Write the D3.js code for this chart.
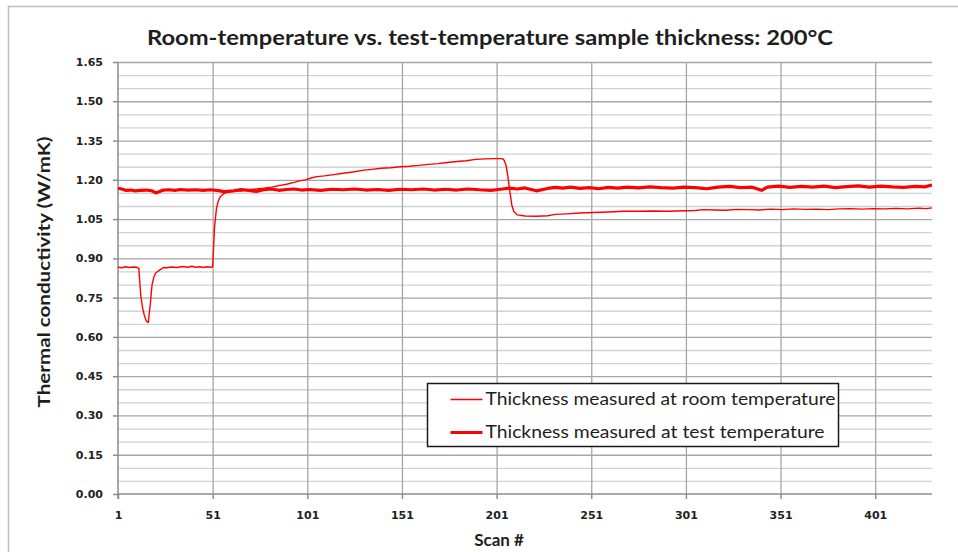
<!DOCTYPE html>
<html lang="en">
<head>
  <meta charset="UTF-8">
  <title>Room-temperature vs. test-temperature sample thickness</title>
  <script src="https://d3js.org/d3.v7.min.js"></script>
  <style>
    body { margin: 0; background: #fff; }
    svg { display: block; }
    .tick text { font-family: "DejaVu Sans", sans-serif; font-weight: bold; font-size: 11px; fill: #222; }
    .title, .axis-title, .legend text { font-family: Lato, "Open Sans", sans-serif; fill: #1e1e1e; }
  </style>
</head>
<body>
  <div id="chart"></div>

  <script>
    // scan numbers and conductivity (W/mK)
    const roomScan = [1, 3, 5, 7, 9, 11, 12, 13, 14, 15, 16, 17, 18, 19, 20, 21, 23, 25, 27, 29, 32, 35, 38, 40, 42, 44, 46, 48, 50, 51,
      52, 53, 54, 55, 57, 59, 62, 66, 70, 74, 78, 82, 86, 90, 94, 97, 100, 103, 106, 110, 115, 120, 125, 130, 135, 140, 145, 150,
      155, 160, 165, 170, 175, 180, 185, 190, 195, 200, 204, 205, 206, 207, 208, 209, 210, 212, 216, 222, 228, 232, 238, 245, 252,
      260, 268, 276, 284, 292, 300, 306, 310, 316, 322, 328, 334, 340, 346, 352, 358, 364, 370, 376, 382, 388, 394, 400, 406, 412,
      418, 424, 428, 431];
    const roomK = [0.866, 0.864, 0.868, 0.865, 0.867, 0.866, 0.862, 0.76, 0.71, 0.68, 0.66, 0.655, 0.72, 0.80, 0.83, 0.845, 0.855, 0.865, 0.864, 0.867, 0.865, 0.869, 0.866, 0.870, 0.866, 0.868, 0.865, 0.868, 0.866, 0.868,
      1.02, 1.09, 1.12, 1.135, 1.148, 1.152, 1.158, 1.157, 1.162, 1.165, 1.168, 1.172, 1.178, 1.183, 1.19, 1.196, 1.20, 1.207, 1.212, 1.215, 1.22, 1.225, 1.23, 1.236, 1.24, 1.244, 1.246, 1.25,
      1.252, 1.255, 1.259, 1.262, 1.266, 1.27, 1.273, 1.278, 1.28, 1.281, 1.281, 1.275, 1.255, 1.21, 1.155, 1.105, 1.08, 1.066, 1.062, 1.061, 1.063, 1.068, 1.07, 1.073, 1.075,
      1.077, 1.08, 1.08, 1.081, 1.08, 1.082, 1.083, 1.086, 1.085, 1.084, 1.087, 1.086, 1.085, 1.088, 1.086, 1.089, 1.087, 1.088, 1.086, 1.089, 1.090, 1.088, 1.090, 1.089, 1.091,
      1.089, 1.092, 1.090, 1.093];

    const testScan = [1, 3, 5, 8, 10, 13, 16, 19, 21, 23, 25, 28, 31, 34, 38, 42, 46, 50, 54, 57, 62, 66, 70, 74, 78, 82, 86, 90, 94, 98,
      102, 108, 114, 120, 126, 132, 138, 144, 150, 156, 162, 168, 174, 180, 186, 192, 198, 203, 208, 212, 216, 222, 228, 232, 236, 240,
      245, 250, 255, 260, 265, 270, 276, 282, 288, 294, 300, 306, 312, 318, 324, 330, 336, 341, 344, 350, 356, 362, 368, 374, 380, 386,
      392, 398, 404, 410, 416, 422, 427, 431];
    const testK = [1.168, 1.165, 1.160, 1.161, 1.158, 1.160, 1.161, 1.158, 1.150, 1.155, 1.161, 1.162, 1.160, 1.163, 1.161, 1.162, 1.160, 1.162, 1.159, 1.155, 1.158, 1.163, 1.160, 1.156, 1.162, 1.165, 1.160, 1.163, 1.165, 1.161,
      1.163, 1.160, 1.164, 1.162, 1.165, 1.161, 1.163, 1.160, 1.164, 1.162, 1.165, 1.161, 1.164, 1.161, 1.165, 1.162, 1.160, 1.164, 1.168, 1.165, 1.169, 1.158, 1.167, 1.171, 1.168, 1.172,
      1.167, 1.170, 1.166, 1.171, 1.168, 1.172, 1.169, 1.173, 1.170, 1.168, 1.172, 1.170, 1.166, 1.172, 1.175, 1.170, 1.172, 1.160, 1.172, 1.176, 1.171, 1.175, 1.172, 1.176, 1.170, 1.174,
      1.177, 1.172, 1.176, 1.173, 1.171, 1.175, 1.173, 1.180];

    const yMajor = [0, 0.15, 0.30, 0.45, 0.60, 0.75, 0.90, 1.05, 1.20, 1.35, 1.50, 1.65];
    const yMinor = [0.05, 0.10, 0.20, 0.25, 0.35, 0.40, 0.50, 0.55, 0.65, 0.70, 0.80, 0.85, 0.95, 1.00, 1.10, 1.15, 1.25, 1.30, 1.40, 1.45, 1.55, 1.60];
    const xTicks = [1, 51, 101, 151, 201, 251, 301, 351, 401];
    const seriesNames = ["Thickness measured at room temperature", "Thickness measured at test temperature"];

    const W = 958, H = 552;
    const margin = {top: 62, right: 26, bottom: 58, left: 118};
    const width = W - margin.left - margin.right,
          height = H - margin.top - margin.bottom;

    const svg = d3.select("#chart").append("svg")
                  .attr("width", W)
                  .attr("height", H);

    // chart frame (runs off right and bottom edges)
    svg.append("rect").attr("x", 8.5).attr("y", 6.5).attr("width", 980).attr("height", 580)
       .attr("fill", "#fff").attr("stroke", "#bdbdbd").attr("stroke-width", 1.5);

    const g = svg.append("g").attr("transform", `translate(${margin.left},${margin.top})`);

    const x = d3.scaleLinear().domain([1, 431]).range([0, width]);
    const y = d3.scaleLinear().domain([0, 1.65]).range([height, 0]);

    // gridlines
    g.append("g").call(d3.axisLeft(y).tickValues(yMinor).tickSize(-width).tickFormat(""))
      .call(s => s.select(".domain").remove())
      .selectAll("line").attr("stroke", "#d2d2d2").attr("stroke-width", 1.3);
    g.append("g").call(d3.axisLeft(y).tickValues(yMajor.slice(1)).tickSize(-width).tickFormat(""))
      .call(s => s.select(".domain").remove())
      .selectAll("line").attr("stroke", "#a6a6a6").attr("stroke-width", 1.3);
    g.append("g").attr("transform", `translate(0,${height})`)
      .call(d3.axisBottom(x).tickValues(xTicks.slice(1)).tickSize(-height).tickFormat(""))
      .call(s => s.select(".domain").remove())
      .selectAll("line").attr("stroke", "#a6a6a6").attr("stroke-width", 1.3);

    // axes
    const yAxis = g.append("g")
      .call(d3.axisLeft(y).tickValues(yMajor).tickSize(5).tickPadding(10).tickFormat(d3.format(".2f")));
    yAxis.select(".domain").attr("d", `M0,0V${height + 5}`);

    const xAxis = g.append("g").attr("transform", `translate(0,${height})`)
      .call(d3.axisBottom(x).tickValues(xTicks).tickSize(5).tickPadding(12).tickFormat(d3.format("d")));
    xAxis.select(".domain").attr("d", `M0,0H${width}`);

    [yAxis, xAxis].forEach(a => {
      a.select(".domain").attr("stroke", "#8c8c8c").attr("stroke-width", 1.5);
      a.selectAll(".tick line").attr("stroke", "#8c8c8c").attr("stroke-width", 1.5);
    });

    // series
    const line = d3.line().x(d => x(d[0])).y(d => y(d[1]));
    const roomData = roomScan.map((s, i) => [s, roomK[i]]);
    const testData = testScan.map((s, i) => [s, testK[i]]);

    g.append("path").datum(testData).attr("d", line)
      .attr("fill", "none").attr("stroke", "#ff0000").attr("stroke-width", 3.2).attr("stroke-linejoin", "round");
    g.append("path").datum(roomData).attr("d", line)
      .attr("fill", "none").attr("stroke", "#ff0000").attr("stroke-width", 1.4).attr("stroke-linejoin", "round");

    // legend
    const legend = svg.append("g").attr("class", "legend").attr("transform", "translate(427.5,383.5)");
    legend.append("rect").attr("width", 411).attr("height", 63)
          .attr("fill", "#fff").attr("stroke", "#1a1a1a").attr("stroke-width", 1.5);
    seriesNames.forEach((name, i) => {
      const ly = 16 + i * 33;
      legend.append("line").attr("x1", 23).attr("x2", 55).attr("y1", ly).attr("y2", ly)
            .attr("stroke", "#ff0000").attr("stroke-width", i === 0 ? 1.4 : 3.2);
      legend.append("text").attr("x", 58).attr("y", ly).attr("dy", "0.35em")
            .attr("font-size", 17)
            .attr("textLength", i === 0 ? 350 : 339).attr("lengthAdjust", "spacingAndGlyphs")
            .text(name);
    });

    // titles
    svg.append("text").attr("class", "title")
       .attr("x", 490).attr("y", 45).attr("text-anchor", "middle")
       .attr("font-size", 21).attr("font-weight", "bold")
       .attr("textLength", 686).attr("lengthAdjust", "spacingAndGlyphs")
       .text("Room-temperature vs. test-temperature sample thickness: 200°C");

    svg.append("text").attr("class", "axis-title")
       .attr("transform", "translate(50,272) rotate(-90)").attr("text-anchor", "middle")
       .attr("font-size", 17).attr("font-weight", "bold")
       .attr("textLength", 271).attr("lengthAdjust", "spacingAndGlyphs")
       .text("Thermal conductivity (W/mK)");

    svg.append("text").attr("class", "axis-title")
       .attr("x", 499).attr("y", 546).attr("text-anchor", "middle")
       .attr("font-size", 17).attr("font-weight", "bold")
       .text("Scan #");
  </script>
</body>
</html>
